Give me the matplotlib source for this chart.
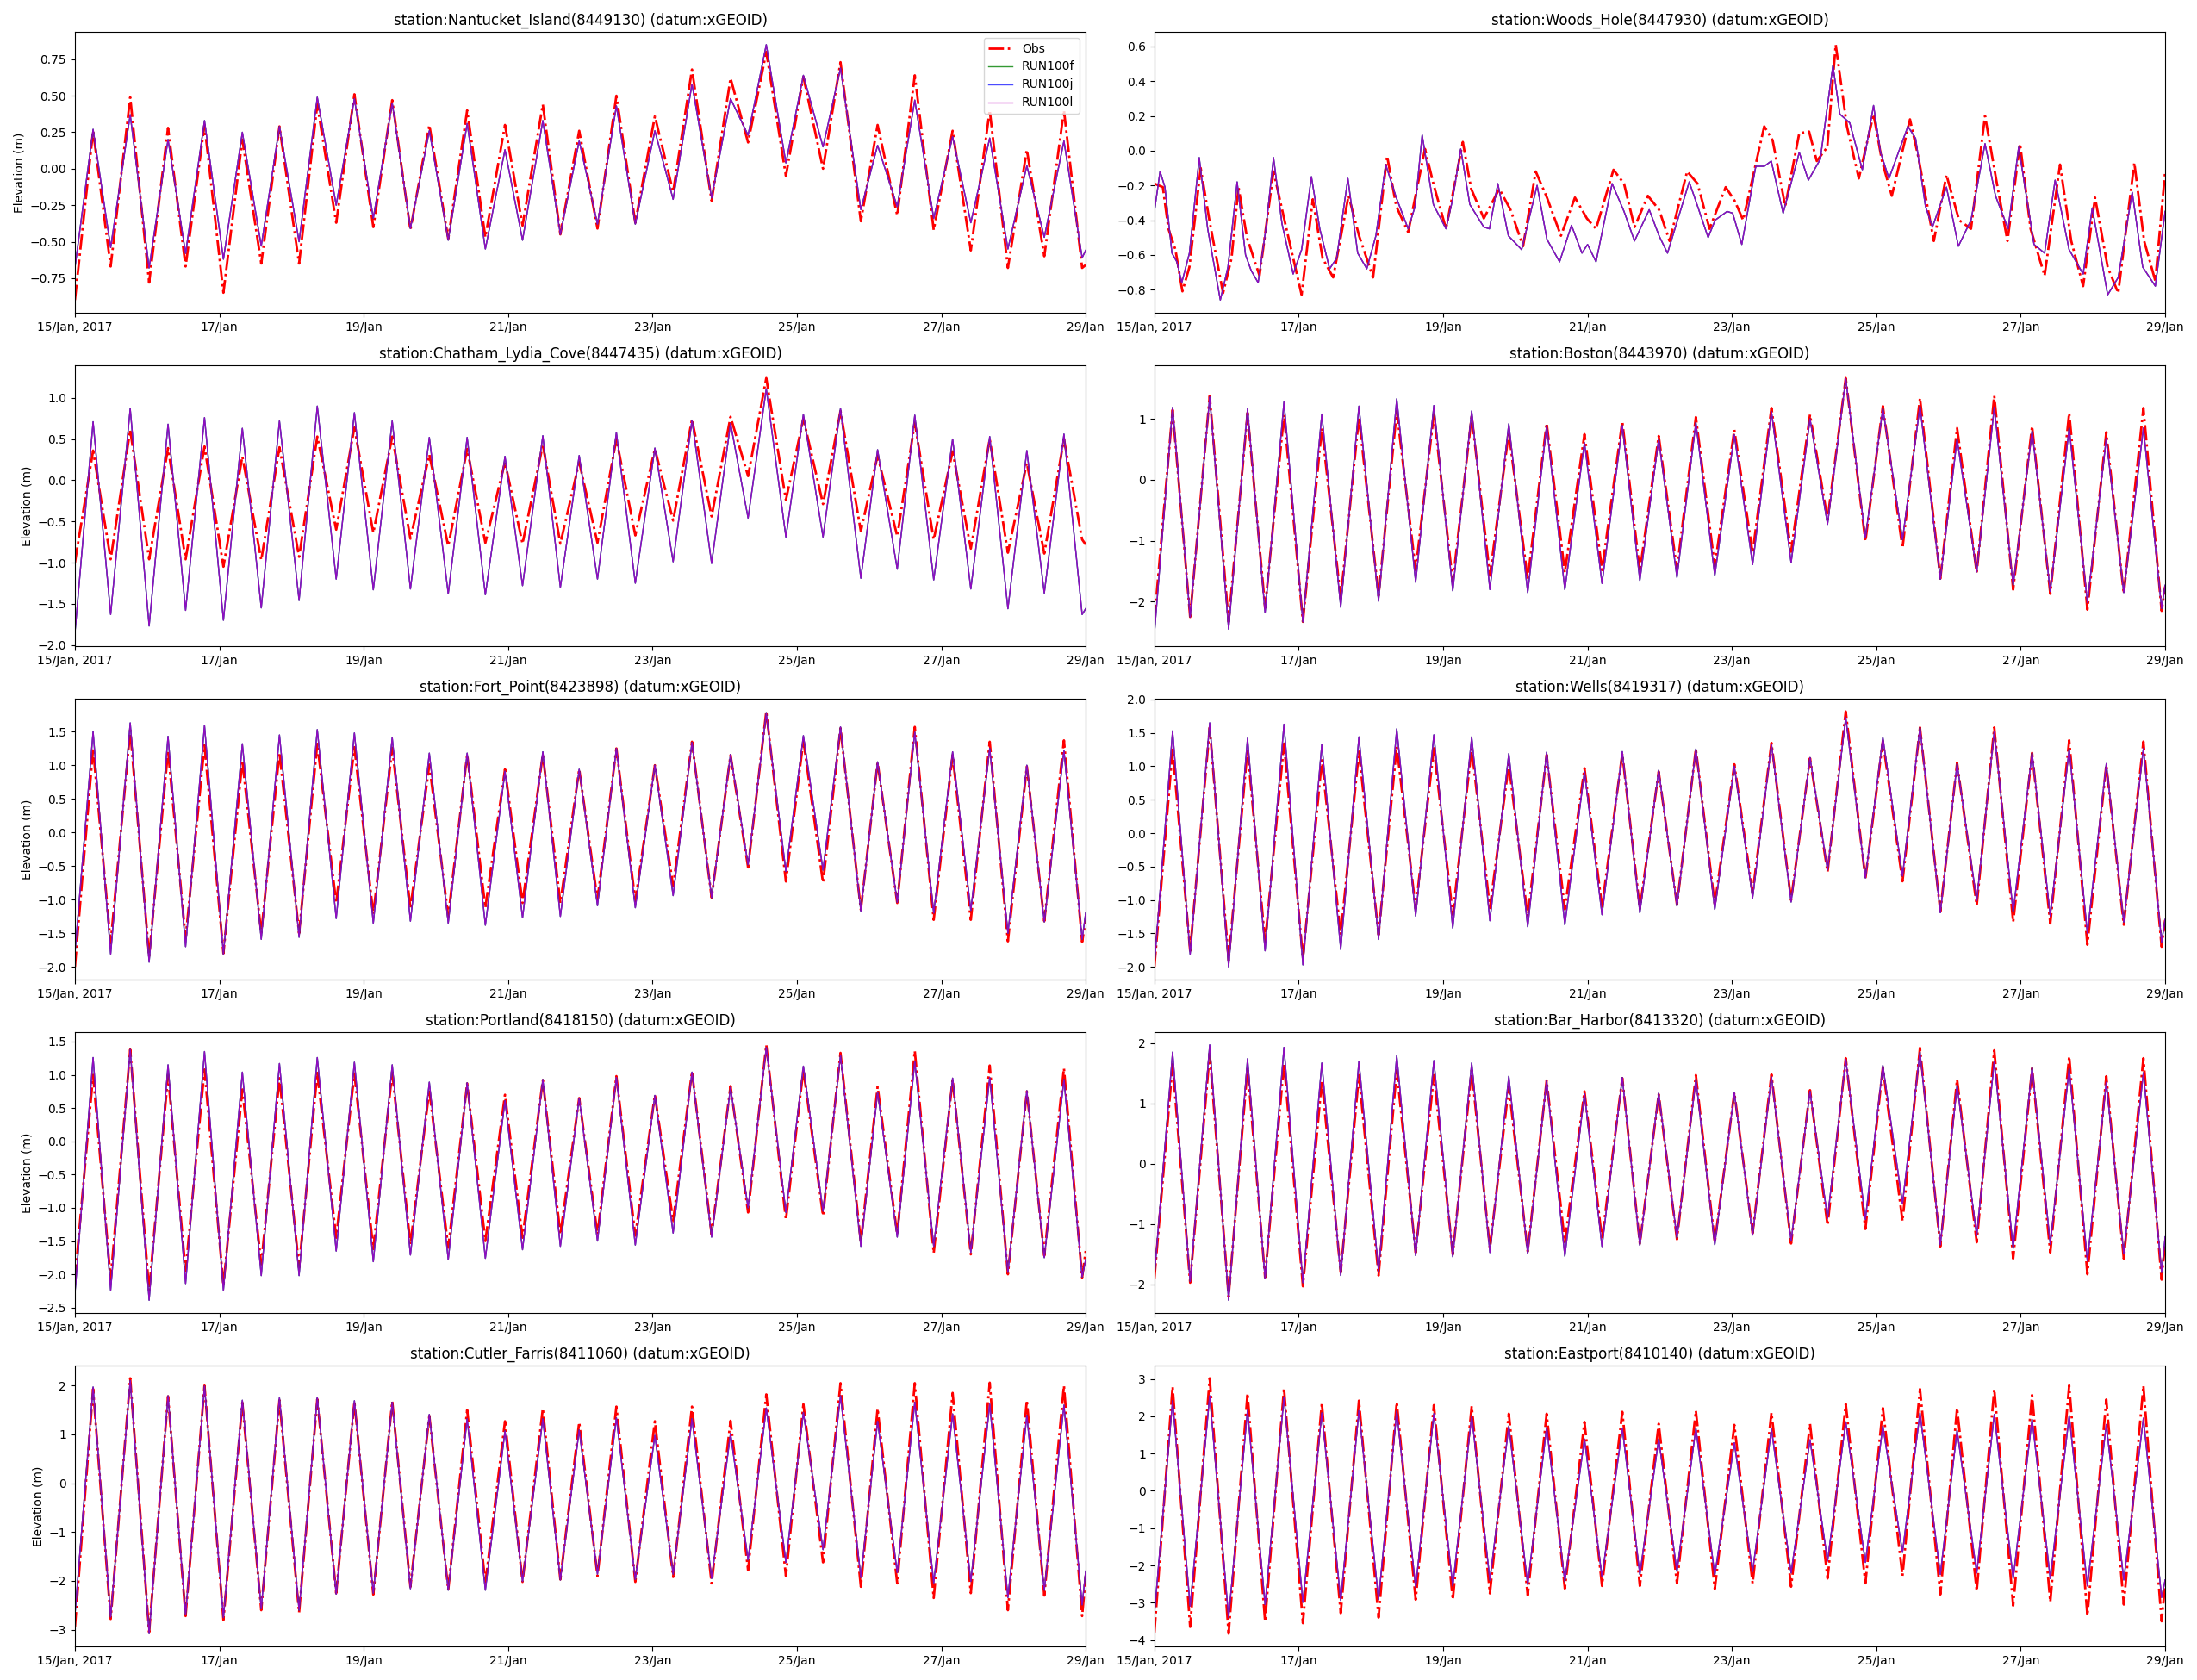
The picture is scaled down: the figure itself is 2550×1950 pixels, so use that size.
import numpy as np
import matplotlib
matplotlib.use("Agg")
import matplotlib.pyplot as plt

# station names (panel order, row by row)
stations = ["Nantucket_Island(8449130)", "Woods_Hole(8447930)",
            "Chatham_Lydia_Cove(8447435)", "Boston(8443970)",
            "Fort_Point(8423898)", "Wells(8419317)",
            "Portland(8418150)", "Bar_Harbor(8413320)",
            "Cutler_Farris(8411060)", "Eastport(8410140)"]

x_ticks = [15, 17, 19, 21, 23, 25, 27, 29]
x_tick_labels = ["15/Jan, 2017", "17/Jan", "19/Jan", "21/Jan", "23/Jan",
                 "25/Jan", "27/Jan", "29/Jan"]

# times (day of Jan 2017) of start, high/low waters and end
tide_times = [15.000,
              15.252, 15.495, 15.766, 16.028, 16.290, 16.533, 16.795, 17.057,
              17.319, 17.581, 17.833, 18.105, 18.357, 18.619, 18.871, 19.133,
              19.395, 19.647, 19.909, 20.171, 20.433, 20.685, 20.957, 21.200,
              21.481, 21.724, 21.985, 22.238, 22.500, 22.762, 23.033, 23.286,
              23.547, 23.819, 24.081, 24.324, 24.576, 24.848, 25.090, 25.362,
              25.604, 25.886, 26.118, 26.390, 26.633, 26.895, 27.157, 27.409,
              27.671, 27.923, 28.185, 28.427, 28.699, 28.951,
              29.000]

nantucket_obs = [-0.90, 0.26, -0.67, 0.49, -0.78, 0.28, -0.67, 0.30, -0.85, 0.20, -0.65, 0.29, -0.65,
                 0.44, -0.37, 0.51, -0.40, 0.47, -0.42, 0.30, -0.48, 0.40, -0.47, 0.30, -0.39,
                 0.44, -0.45, 0.26, -0.41, 0.50, -0.37, 0.36, -0.16, 0.68, -0.22, 0.62, 0.18,
                 0.80, -0.05, 0.63, 0.00, 0.73, -0.36, 0.30, -0.32, 0.64, -0.42, 0.26, -0.56,
                 0.40, -0.68, 0.13, -0.60, 0.40, -0.68, -0.66]
nantucket_mod = [-0.68, 0.27, -0.54, 0.37, -0.68, 0.20, -0.58, 0.33, -0.62, 0.25, -0.53, 0.29, -0.50,
                 0.49, -0.25, 0.48, -0.34, 0.45, -0.41, 0.26, -0.49, 0.31, -0.55, 0.13, -0.49,
                 0.33, -0.45, 0.19, -0.38, 0.43, -0.38, 0.26, -0.21, 0.58, -0.20, 0.48, 0.23,
                 0.85, 0.04, 0.64, 0.15, 0.69, -0.28, 0.16, -0.26, 0.47, -0.34, 0.22, -0.37,
                 0.21, -0.55, 0.02, -0.47, 0.19, -0.61, -0.56]

# Woods Hole has its own irregular shape, so its own times
woods_obs_t = [15.000, 15.117, 15.194, 15.291, 15.388, 15.485, 15.641, 15.757, 15.951, 16.068,
               16.165, 16.282, 16.456, 16.650, 16.796, 17.039, 17.194, 17.330, 17.476, 17.689,
               17.835, 18.029, 18.223, 18.350, 18.515, 18.748, 18.864, 19.039, 19.272, 19.388,
               19.563, 19.777, 19.932, 20.107, 20.282, 20.437, 20.631, 20.825, 20.990, 21.117,
               21.359, 21.505, 21.650, 21.835, 21.990, 22.136, 22.379, 22.524, 22.689, 22.913,
               23.039, 23.155, 23.447, 23.563, 23.738, 23.932, 24.068, 24.175, 24.320, 24.437,
               24.592, 24.757, 24.961, 25.078, 25.214, 25.466, 25.583, 25.796, 25.971, 26.146,
               26.311, 26.505, 26.670, 26.816, 26.990, 27.136, 27.330, 27.544, 27.699, 27.864,
               28.029, 28.204, 28.350, 28.573, 28.709, 28.864, 29.000]
woods_obs = [-0.19, -0.21, -0.45, -0.57, -0.81, -0.67, -0.10, -0.39, -0.82, -0.62,
             -0.21, -0.50, -0.72, -0.12, -0.39, -0.83, -0.28, -0.62, -0.73, -0.26,
             -0.49, -0.73, -0.03, -0.32, -0.47, 0.01, -0.19, -0.45, 0.05, -0.22,
             -0.39, -0.22, -0.34, -0.55, -0.12, -0.27, -0.49, -0.27, -0.39, -0.45,
             -0.11, -0.19, -0.44, -0.26, -0.34, -0.52, -0.12, -0.19, -0.45, -0.21,
             -0.29, -0.40, 0.14, 0.06, -0.32, 0.10, 0.11, -0.06, 0.02, 0.61,
             0.14, -0.16, 0.21, -0.06, -0.26, 0.18, -0.04, -0.52, -0.14, -0.40,
             -0.45, 0.20, -0.19, -0.52, 0.04, -0.45, -0.72, -0.08, -0.52, -0.78,
             -0.27, -0.67, -0.82, -0.07, -0.52, -0.75, -0.12]
woods_mod_t = [15.000, 15.078, 15.146, 15.243, 15.311, 15.379, 15.485, 15.621, 15.738, 15.913,
               16.019, 16.146, 16.262, 16.340, 16.437, 16.544, 16.650, 16.767, 16.922, 17.039,
               17.175, 17.291, 17.427, 17.524, 17.680, 17.816, 17.942, 18.068, 18.204, 18.350,
               18.515, 18.612, 18.709, 18.864, 19.039, 19.126, 19.243, 19.369, 19.563, 19.641,
               19.757, 19.903, 20.087, 20.301, 20.437, 20.612, 20.777, 20.922, 21.000, 21.117,
               21.340, 21.505, 21.650, 21.854, 21.990, 22.107, 22.408, 22.524, 22.670, 22.767,
               22.932, 23.010, 23.136, 23.330, 23.447, 23.544, 23.709, 23.932, 24.058, 24.223,
               24.398, 24.495, 24.631, 24.806, 24.961, 25.058, 25.175, 25.437, 25.544, 25.680,
               25.777, 25.971, 26.136, 26.311, 26.505, 26.650, 26.825, 26.971, 27.184, 27.330,
               27.476, 27.670, 27.864, 27.990, 28.204, 28.350, 28.544, 28.689, 28.864, 29.000]
woods_mod = [-0.35, -0.12, -0.21, -0.59, -0.64, -0.76, -0.59, -0.04, -0.45, -0.86,
             -0.67, -0.18, -0.60, -0.69, -0.76, -0.45, -0.04, -0.42, -0.71, -0.57,
             -0.15, -0.45, -0.68, -0.62, -0.16, -0.59, -0.68, -0.49, -0.08, -0.27,
             -0.45, -0.32, 0.09, -0.31, -0.45, -0.29, 0.01, -0.31, -0.44, -0.45,
             -0.19, -0.49, -0.57, -0.20, -0.51, -0.64, -0.43, -0.59, -0.54, -0.64,
             -0.19, -0.35, -0.52, -0.34, -0.49, -0.59, -0.18, -0.32, -0.50, -0.40,
             -0.35, -0.36, -0.54, -0.09, -0.09, -0.06, -0.36, -0.01, -0.17, -0.05,
             0.49, 0.21, 0.16, -0.11, 0.26, -0.01, -0.16, 0.14, 0.07, -0.32,
             -0.44, -0.21, -0.55, -0.40, 0.04, -0.26, -0.45, 0.02, -0.54, -0.59,
             -0.17, -0.57, -0.71, -0.33, -0.83, -0.73, -0.24, -0.67, -0.78, -0.35]

chatham_obs = [-1.00, 0.36, -0.96, 0.61, -0.96, 0.39, -0.96, 0.41, -1.05, 0.29, -0.97, 0.40, -0.93,
               0.53, -0.60, 0.64, -0.64, 0.53, -0.71, 0.31, -0.80, 0.38, -0.76, 0.22, -0.77,
               0.43, -0.77, 0.22, -0.76, 0.50, -0.67, 0.38, -0.49, 0.74, -0.44, 0.77, 0.05,
               1.24, -0.24, 0.75, -0.29, 0.84, -0.62, 0.30, -0.68, 0.70, -0.72, 0.35, -0.83,
               0.50, -0.88, 0.21, -0.89, 0.50, -0.72, -0.78]
chatham_mod = [-1.86, 0.71, -1.63, 0.87, -1.77, 0.68, -1.58, 0.76, -1.70, 0.63, -1.55, 0.72, -1.46,
               0.90, -1.20, 0.82, -1.33, 0.72, -1.32, 0.52, -1.38, 0.52, -1.39, 0.29, -1.28,
               0.54, -1.30, 0.30, -1.20, 0.58, -1.25, 0.39, -0.99, 0.73, -1.01, 0.69, -0.46,
               1.11, -0.69, 0.80, -0.69, 0.87, -1.19, 0.37, -1.08, 0.79, -1.21, 0.50, -1.32,
               0.53, -1.56, 0.36, -1.37, 0.56, -1.63, -1.56]

boston_obs = [-2.30, 1.15, -2.25, 1.38, -2.33, 1.10, -2.10, 1.07, -2.33, 0.85, -1.95, 1.03, -1.90,
              1.13, -1.48, 1.08, -1.68, 1.05, -1.57, 0.78, -1.63, 0.93, -1.52, 0.75, -1.48,
              0.96, -1.50, 0.72, -1.47, 1.03, -1.42, 0.82, -1.20, 1.18, -1.18, 1.07, -0.65,
              1.67, -1.01, 1.21, -1.12, 1.34, -1.62, 0.85, -1.52, 1.38, -1.80, 0.88, -1.87,
              1.10, -2.13, 0.78, -1.87, 1.18, -2.15, -1.75]
boston_mod = [-2.52, 1.19, -2.25, 1.36, -2.45, 1.17, -2.18, 1.28, -2.33, 1.08, -2.09, 1.21, -1.99,
              1.33, -1.68, 1.22, -1.82, 1.13, -1.80, 0.92, -1.85, 0.89, -1.80, 0.61, -1.70,
              0.89, -1.65, 0.67, -1.60, 0.94, -1.57, 0.74, -1.39, 1.12, -1.36, 1.00, -0.73,
              1.66, -0.95, 1.17, -0.98, 1.21, -1.63, 0.67, -1.51, 1.19, -1.73, 0.80, -1.83,
              0.85, -2.01, 0.68, -1.85, 0.85, -2.11, -1.73]

fortpoint_obs = [-2.00, 1.25, -1.65, 1.52, -1.85, 1.22, -1.58, 1.30, -1.80, 1.07, -1.50, 1.19, -1.50,
                 1.32, -1.05, 1.27, -1.22, 1.26, -1.13, 1.01, -1.25, 1.16, -1.12, 0.94, -1.05,
                 1.16, -1.05, 0.94, -1.00, 1.25, -1.02, 1.00, -0.80, 1.35, -0.97, 1.15, -0.52,
                 1.80, -0.73, 1.37, -0.75, 1.55, -1.15, 1.04, -1.05, 1.57, -1.30, 1.15, -1.30,
                 1.35, -1.62, 0.98, -1.32, 1.37, -1.63, -1.30]
fortpoint_mod = [-1.80, 1.50, -1.81, 1.63, -1.93, 1.43, -1.70, 1.59, -1.81, 1.32, -1.59, 1.45, -1.56,
                 1.53, -1.28, 1.48, -1.35, 1.41, -1.32, 1.18, -1.35, 1.18, -1.38, 0.91, -1.27,
                 1.20, -1.25, 0.94, -1.09, 1.25, -1.12, 1.00, -0.94, 1.34, -0.97, 1.16, -0.48,
                 1.77, -0.58, 1.44, -0.56, 1.57, -1.17, 1.05, -1.04, 1.49, -1.20, 1.20, -1.16,
                 1.25, -1.50, 1.00, -1.33, 1.22, -1.59, -1.20]

wells_obs = [-2.00, 1.25, -1.76, 1.58, -1.90, 1.26, -1.63, 1.34, -1.88, 1.09, -1.52, 1.22, -1.52,
             1.30, -1.13, 1.27, -1.22, 1.27, -1.12, 1.03, -1.25, 1.17, -1.14, 0.97, -1.10,
             1.19, -1.13, 0.92, -1.07, 1.26, -1.07, 1.03, -0.90, 1.35, -1.00, 1.12, -0.58,
             1.82, -0.68, 1.38, -0.72, 1.58, -1.17, 1.05, -1.08, 1.58, -1.33, 1.20, -1.35,
             1.39, -1.67, 1.02, -1.37, 1.37, -1.70, -1.30]
wells_mod = [-1.96, 1.53, -1.81, 1.65, -2.00, 1.42, -1.76, 1.63, -1.97, 1.33, -1.74, 1.44, -1.59,
             1.56, -1.24, 1.47, -1.42, 1.44, -1.31, 1.19, -1.40, 1.21, -1.37, 0.92, -1.22,
             1.22, -1.19, 0.94, -1.09, 1.26, -1.14, 1.00, -0.97, 1.33, -1.03, 1.13, -0.55,
             1.73, -0.67, 1.43, -0.64, 1.58, -1.19, 1.04, -1.01, 1.52, -1.18, 1.20, -1.24,
             1.26, -1.50, 1.04, -1.33, 1.27, -1.63, -1.29]

portland_obs = [-2.08, 1.00, -2.08, 1.38, -2.25, 1.00, -1.95, 1.08, -2.17, 0.78, -1.85, 0.95, -1.90,
                1.03, -1.45, 1.02, -1.62, 1.04, -1.55, 0.77, -1.60, 0.87, -1.50, 0.70, -1.45,
                0.92, -1.40, 0.65, -1.40, 0.98, -1.42, 0.70, -1.20, 1.05, -1.40, 0.83, -1.07,
                1.45, -1.18, 1.08, -1.12, 1.33, -1.52, 0.82, -1.40, 1.36, -1.68, 0.93, -1.70,
                1.14, -2.00, 0.75, -1.72, 1.10, -2.05, -1.65]
portland_mod = [-2.30, 1.26, -2.24, 1.38, -2.39, 1.15, -2.14, 1.35, -2.24, 1.04, -2.02, 1.17, -2.02,
                1.26, -1.65, 1.19, -1.81, 1.15, -1.71, 0.89, -1.78, 0.88, -1.76, 0.61, -1.63,
                0.93, -1.58, 0.65, -1.50, 0.96, -1.56, 0.69, -1.38, 1.04, -1.44, 0.81, -1.00,
                1.41, -1.07, 1.13, -1.05, 1.29, -1.58, 0.74, -1.44, 1.20, -1.58, 0.95, -1.67,
                0.96, -1.97, 0.76, -1.75, 0.93, -2.04, -1.78]

barharbor_obs = [-1.90, 1.65, -1.97, 1.83, -2.20, 1.60, -1.88, 1.67, -2.03, 1.38, -1.80, 1.47, -1.85,
                 1.55, -1.47, 1.47, -1.50, 1.55, -1.40, 1.28, -1.45, 1.38, -1.30, 1.20, -1.25,
                 1.42, -1.32, 1.15, -1.25, 1.47, -1.30, 1.18, -1.15, 1.48, -1.32, 1.22, -1.02,
                 1.75, -1.08, 1.60, -0.95, 1.92, -1.37, 1.40, -1.30, 1.88, -1.57, 1.58, -1.47,
                 1.78, -1.83, 1.45, -1.57, 1.75, -1.92, -1.30]
barharbor_mod = [-1.85, 1.85, -1.95, 1.97, -2.26, 1.74, -1.90, 1.93, -1.97, 1.67, -1.85, 1.70, -1.78,
                 1.79, -1.52, 1.71, -1.54, 1.67, -1.47, 1.45, -1.49, 1.38, -1.53, 1.16, -1.37,
                 1.43, -1.35, 1.17, -1.23, 1.40, -1.34, 1.18, -1.18, 1.44, -1.28, 1.20, -0.90,
                 1.73, -0.92, 1.63, -0.66, 1.85, -1.34, 1.30, -1.19, 1.70, -1.40, 1.60, -1.33,
                 1.58, -1.61, 1.35, -1.49, 1.51, -1.80, -1.21]

cutler_obs = [-2.95, 1.93, -2.78, 2.15, -3.05, 1.78, -2.72, 2.00, -2.80, 1.65, -2.60, 1.70, -2.65,
              1.72, -2.25, 1.67, -2.28, 1.68, -2.12, 1.38, -2.18, 1.50, -2.05, 1.27, -2.02,
              1.53, -1.97, 1.25, -1.90, 1.57, -2.02, 1.27, -1.92, 1.57, -2.05, 1.28, -1.78,
              1.82, -1.90, 1.62, -1.62, 2.05, -2.12, 1.53, -2.05, 2.05, -2.35, 1.85, -2.25,
              2.06, -2.60, 1.70, -2.30, 2.00, -2.72, -1.90]
cutler_mod = [-2.70, 1.97, -2.74, 2.10, -3.08, 1.79, -2.69, 1.99, -2.75, 1.70, -2.57, 1.75, -2.60,
              1.76, -2.27, 1.69, -2.25, 1.66, -2.16, 1.41, -2.19, 1.32, -2.19, 1.07, -2.01,
              1.32, -1.98, 1.09, -1.86, 1.34, -1.97, 0.98, -1.86, 1.32, -1.95, 1.02, -1.57,
              1.54, -1.62, 1.45, -1.36, 1.79, -1.93, 1.27, -1.83, 1.66, -2.04, 1.42, -2.01,
              1.62, -2.34, 1.39, -2.19, 1.60, -2.49, -1.80]

eastport_obs = [-3.80, 2.80, -3.65, 3.02, -3.83, 2.62, -3.50, 2.75, -3.55, 2.35, -3.28, 2.42, -3.40,
                2.38, -2.92, 2.30, -2.92, 2.27, -2.75, 2.07, -2.80, 2.07, -2.62, 1.85, -2.55,
                2.12, -2.55, 1.80, -2.48, 2.15, -2.63, 1.77, -2.48, 2.10, -2.57, 1.80, -2.35,
                2.33, -2.48, 2.22, -2.28, 2.73, -2.78, 2.22, -2.68, 2.73, -3.08, 2.57, -2.98,
                2.83, -3.35, 2.45, -3.05, 2.82, -3.50, -2.50]
eastport_mod = [-3.30, 2.42, -3.09, 2.55, -3.40, 2.17, -3.05, 2.52, -2.99, 2.09, -2.94, 2.15, -2.91,
                2.14, -2.59, 2.07, -2.55, 2.02, -2.39, 1.74, -2.51, 1.70, -2.43, 1.39, -2.31,
                1.68, -2.24, 1.39, -2.16, 1.68, -2.26, 1.29, -2.16, 1.66, -2.20, 1.37, -1.88,
                1.85, -1.92, 1.74, -1.65, 2.09, -2.24, 1.62, -2.20, 2.05, -2.35, 1.92, -2.35,
                2.02, -2.55, 1.78, -2.39, 1.95, -2.86, -2.39]

panels = [
    (tide_times, nantucket_obs, tide_times, nantucket_mod),
    (woods_obs_t, woods_obs, woods_mod_t, woods_mod),
    (tide_times, chatham_obs, tide_times, chatham_mod),
    (tide_times, boston_obs, tide_times, boston_mod),
    (tide_times, fortpoint_obs, tide_times, fortpoint_mod),
    (tide_times, wells_obs, tide_times, wells_mod),
    (tide_times, portland_obs, tide_times, portland_mod),
    (tide_times, barharbor_obs, tide_times, barharbor_mod),
    (tide_times, cutler_obs, tide_times, cutler_mod),
    (tide_times, eastport_obs, tide_times, eastport_mod),
]

fig, axes = plt.subplots(5, 2, figsize=(25.5, 19.5), dpi=100)
fig.subplots_adjust(left=0.0341, right=0.9855, top=0.981, bottom=0.020,
                    wspace=0.068, hspace=0.187)

for i, ax in enumerate(axes.flat):
    t_obs, obs, t_mod, mod = panels[i]
    ax.plot(t_obs, obs, color="r", linestyle="-.", linewidth=2, label="Obs")
    ax.plot(t_mod, mod, color="g", linewidth=1, alpha=0.8, label="RUN100f")
    ax.plot(t_mod, mod, color="b", linewidth=1, alpha=0.7, label="RUN100j")
    ax.plot(t_mod, mod, color="m", linewidth=1, alpha=0.75, label="RUN100l")
    ax.set_title("station:%s (datum:xGEOID)" % stations[i])
    ax.set_xlim(15, 29)
    ax.set_xticks(x_ticks)
    ax.set_xticklabels(x_tick_labels)
    if i % 2 == 0:
        ax.set_ylabel("Elevation (m)")
    if i == 0:
        ax.legend(loc="upper right")

fig.savefig("out.png", dpi=100)
